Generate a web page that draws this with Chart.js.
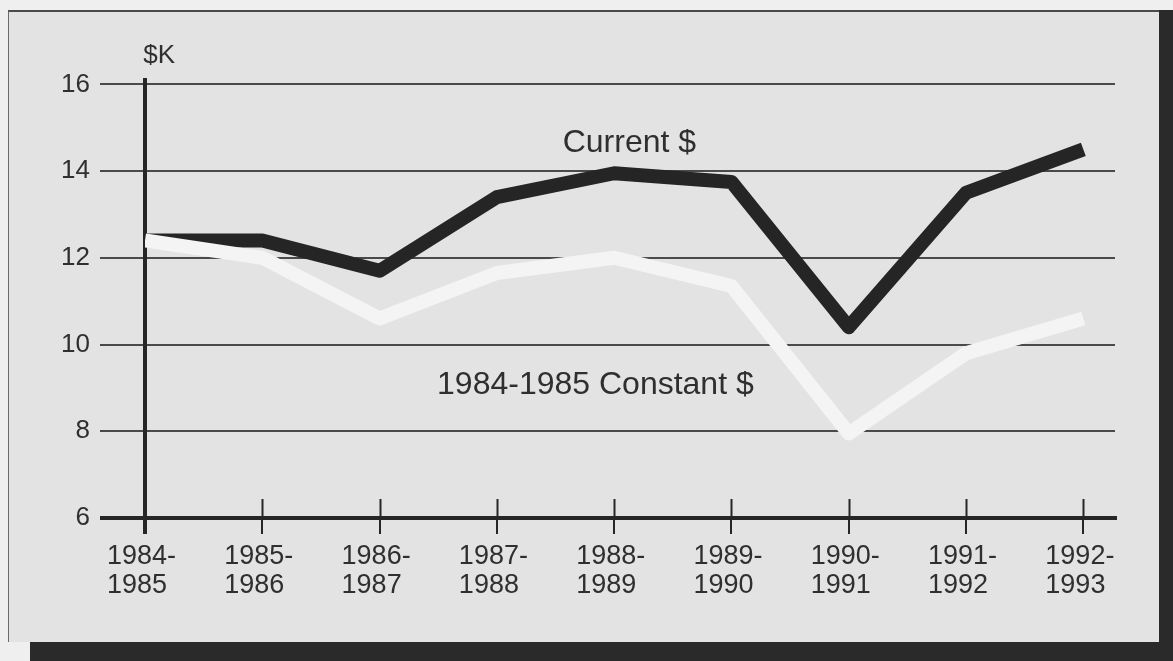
<!DOCTYPE html>
<html>
<head>
<meta charset="utf-8">
<script src="https://cdn.jsdelivr.net/npm/chart.js@4"></script>
<style>
  html, body { margin: 0; padding: 0; background: #efefef; overflow: hidden; }
  #panel {
    position: absolute; left: 8px; top: 10px; width: 1150px; height: 630px;
    background: #e3e3e3; border-top: 2px solid #4a4a4a; border-left: 1px solid #6a6a6a;
  }
  .shadow { position: absolute; background: #2a2a2a; }
  #wrap { position: absolute; left: 0; top: 0; width: 1173px; height: 661px; }
</style>
</head>
<body>
<div id="panel"></div>
<div class="shadow" style="left:1159px; top:10px; width:14px; height:651px;"></div>
<div class="shadow" style="left:30px; top:642px; width:1143px; height:19px;"></div>
<div id="wrap"><canvas id="myChart"></canvas></div>
<script>
const categories = ['1984-1985', '1985-1986', '1986-1987', '1987-1988', '1988-1989',
                    '1989-1990', '1990-1991', '1991-1992', '1992-1993'];
const currentDollars = [12.4, 12.4, 11.7, 13.4, 13.95, 13.75, 10.4, 13.5, 14.5];
const constantDollars = [12.4, 12.0, 10.6, 11.65, 12.0, 11.35, 7.95, 9.8, 10.6];
const yTickValues = [6, 8, 10, 12, 14, 16];

const FONT = "'Liberation Sans', Arial, Helvetica, sans-serif";
const TEXT = '#2f2f2f';

const toPoints = (arr) => arr.map((v, i) => ({ x: i, y: v }));

// upper half of the x tick crosses + the free text labels
const extras = {
  id: 'extras',
  afterDraw(chart) {
    const { ctx, scales: { x, y }, chartArea } = chart;
    ctx.save();
    ctx.strokeStyle = '#262626';
    ctx.lineWidth = 2;
    for (let i = 1; i < categories.length; i++) {
      const px = Math.round(x.getPixelForValue(i)) + 0.5;
      ctx.beginPath();
      ctx.moveTo(px, chartArea.bottom - 19);
      ctx.lineTo(px, chartArea.bottom);
      ctx.stroke();
    }

    ctx.fillStyle = TEXT;
    ctx.textBaseline = 'alphabetic';
    ctx.textAlign = 'center';
    ctx.font = '26px ' + FONT;
    ctx.fillText('$K', x.getPixelForValue(0.12), y.getPixelForValue(16.5));

    ctx.font = '32px ' + FONT;
    ctx.fillText('Current $', x.getPixelForValue(4.13), y.getPixelForValue(14.44));
    ctx.fillText('1984-1985 Constant $', x.getPixelForValue(3.84), y.getPixelForValue(8.87));
    ctx.restore();
  }
};

const ctx = document.getElementById('myChart');
new Chart(ctx, {
  type: 'line',
  data: {
    datasets: [
      {
        label: '1984-1985 Constant $',
        data: toPoints(constantDollars),
        borderColor: '#f4f4f4',
        borderWidth: 14,
        borderJoinStyle: 'round',
        pointRadius: 0,
        tension: 0
      },
      {
        label: 'Current $',
        data: toPoints(currentDollars),
        borderColor: '#252525',
        borderWidth: 14,
        borderJoinStyle: 'round',
        pointRadius: 0,
        tension: 0
      }
    ]
  },
  options: {
    responsive: true,
    maintainAspectRatio: false,
    animation: false,
    layout: { padding: { left: 0, right: 58, top: 80, bottom: 0 } },
    plugins: {
      legend: { display: false },
      tooltip: { enabled: false }
    },
    scales: {
      x: {
        type: 'linear',
        min: 0,
        max: 8.27,
        afterFit(scale) { scale.height = 143; },
        ticks: {
          stepSize: 1,
          includeBounds: false,
          autoSkip: false,
          maxRotation: 0,
          align: 'start',
          labelOffset: -38,
          padding: 9,
          color: TEXT,
          font: { size: 27, family: FONT, lineHeight: 1.04 },
          callback: (v) => {
            const c = categories[v];
            if (!c) return '';
            const parts = c.split('-');
            return [parts[0] + '-', parts[1]];
          }
        },
        grid: {
          drawOnChartArea: false,
          drawTicks: true,
          tickLength: 16,
          color: '#262626',
          lineWidth: (c) => (c.tick && c.tick.value === 0 ? 4 : 2)
        },
        border: { display: true, color: '#262626', width: 4 }
      },
      y: {
        min: 6,
        max: 16.1,
        afterFit(scale) { scale.width = 145; },
        afterBuildTicks(scale) { scale.ticks = yTickValues.map(v => ({ value: v })); },
        ticks: {
          padding: 10,
          color: TEXT,
          font: { size: 26, family: FONT }
        },
        grid: {
          tickLength: 45,
          color: (c) => (c.tick && c.tick.value === 6 ? '#262626' : '#4a4a4a'),
          lineWidth: (c) => (c.tick && c.tick.value === 6 ? 4 : 2)
        },
        border: { display: true, color: '#262626', width: 4 }
      }
    }
  },
  plugins: [extras]
});
</script>
</body>
</html>
